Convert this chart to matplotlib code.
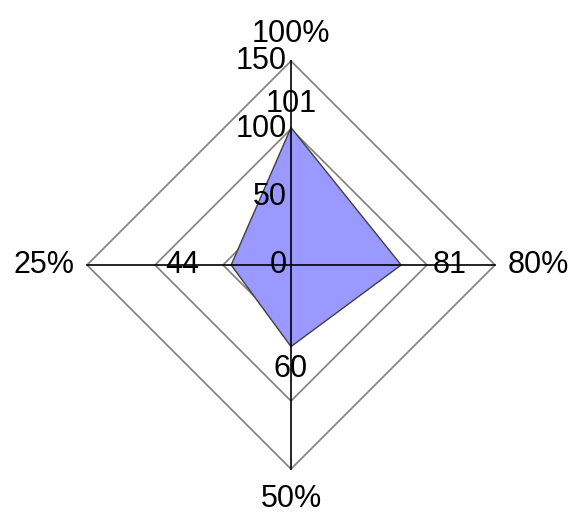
import numpy as np
import matplotlib
matplotlib.use('Agg')
import matplotlib.pyplot as plt

plt.rcParams['font.family'] = ['Liberation Sans', 'DejaVu Sans']

# data
categories = ['100%', '80%', '50%', '25%']
values = [101, 81, 60, 44]
ticks = [0, 50, 100, 150]
rmax = 150

# axis directions: top, right, bottom, left
angles = np.array([90, 0, -90, 180]) * np.pi / 180
ux, uy = np.cos(angles), np.sin(angles)

scale = 204 / 150  # px per unit
W, H = 573, 513
cx, cy = 291, 265

fig = plt.figure(figsize=(5.73, 5.13), dpi=100)
ax = fig.add_axes([0, 0, 1, 1])
ax.set_xlim(-cx / scale, (W - cx) / scale)
ax.set_ylim(-(H - cy) / scale, cy / scale)
ax.set_aspect('equal')
ax.axis('off')

# grid polygons
for t in ticks[1:]:
    xs = np.append(ux * t, ux[0] * t)
    ys = np.append(uy * t, uy[0] * t)
    ax.plot(xs, ys, color='#808080', lw=1.2, zorder=1)

# data polygon
vx = np.array(values) * ux
vy = np.array(values) * uy
ax.fill(vx, vy, facecolor='#9999ff', edgecolor='#404040', lw=1.0, zorder=2)

# spokes
for i in range(len(categories)):
    ax.plot([0, ux[i] * rmax], [0, uy[i] * rmax], color='black', lw=1.2, zorder=3)

fs = 22
# tick labels along top axis
for t in ticks:
    ax.text(-3, t, str(t), ha='right', va='center', fontsize=fs, zorder=4)

# category labels
pad = 9
ax.text(0, rmax + pad, categories[0], ha='center', va='bottom', fontsize=fs)
ax.text(rmax + pad, 0, categories[1], ha='left', va='center', fontsize=fs)
ax.text(0, -rmax - pad - 2, categories[2], ha='center', va='top', fontsize=fs)
ax.text(-rmax - pad, 0, categories[3], ha='right', va='center', fontsize=fs)

# value labels
ax.annotate(str(values[0]), (0, values[0]), xytext=(0, 6), textcoords='offset points',
            ha='center', va='bottom', fontsize=fs, zorder=5)
ax.annotate(str(values[1]), (values[1], 0), xytext=(23, 0), textcoords='offset points',
            ha='left', va='center', fontsize=fs, zorder=5)
ax.annotate(str(values[2]), (0, -values[2]), xytext=(0, -5), textcoords='offset points',
            ha='center', va='top', fontsize=fs, zorder=5)
ax.annotate(str(values[3]), (-values[3], 0), xytext=(-23, 0), textcoords='offset points',
            ha='right', va='center', fontsize=fs, zorder=5)

fig.savefig('out.png', dpi=100, facecolor='white')
